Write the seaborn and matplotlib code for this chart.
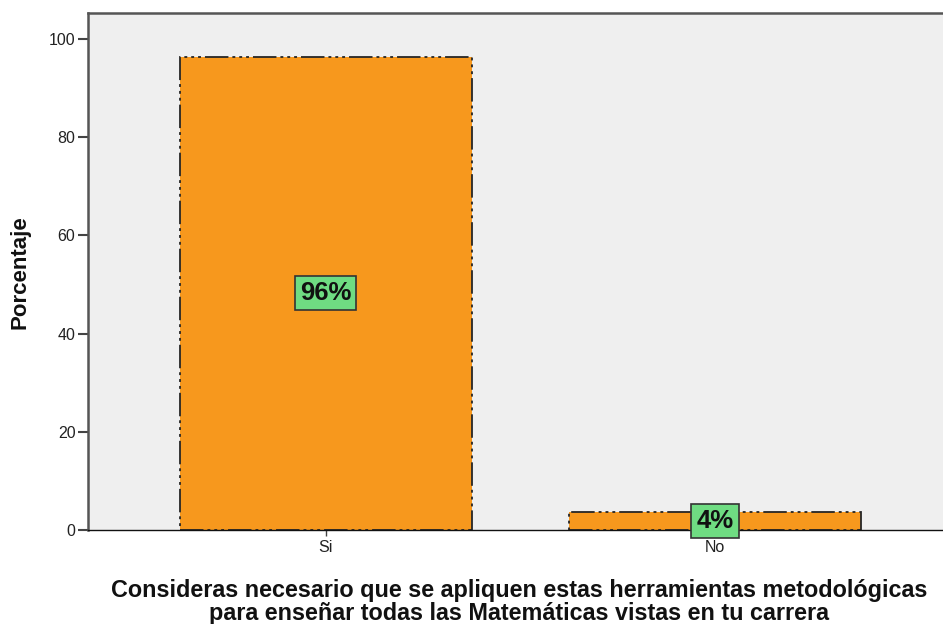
import matplotlib
matplotlib.use("Agg")
import matplotlib.pyplot as plt
import seaborn as sns
import pandas as pd

categories = ["Si", "No"]
porcentajes = [96.4, 3.6]
y_ticks = [0, 20, 40, 60, 80, 100]
x_title = ("Consideras necesario que se apliquen estas herramientas metodológicas\n"
           "para enseñar todas las Matemáticas vistas en tu carrera")
y_title = "Porcentaje"

sns.set_theme(style="white")
plt.rcParams["font.family"] = ["Liberation Sans", "DejaVu Sans"]

df = pd.DataFrame({"respuesta": categories, "porcentaje": porcentajes})

fig = plt.figure(figsize=(9.43, 6.24), dpi=100)
ax = fig.add_axes([88 / 943, 1 - 530 / 624, 1 - 88 / 943 + 0.01, (530 - 13) / 624])
ax.set_facecolor("#efefef")

# long dash followed by a run of dots
edge_style = (0, (13, 2.2, 1.6, 2.2, 1.6, 2.2, 1.6, 2.2))
sns.barplot(data=df, x="respuesta", y="porcentaje", color="#f7981d",
            saturation=1, width=0.75, ax=ax,
            edgecolor="#262626", linewidth=1.3, linestyle=edge_style)

ax.set_xlim(-0.61, 1.61)
ax.set_ylim(0, 105.3)
ax.set_yticks(y_ticks)
ax.set_yticklabels([str(t) for t in y_ticks], fontsize=11.5, color="#222222")
ax.tick_params(axis="y", direction="out", length=7, width=1.5, color="#444444",
               left=True, pad=2)
ax.tick_params(axis="x", direction="out", length=4, width=1, color="#444444",
               bottom=True, labelsize=11.5, labelcolor="#222222", pad=3)

for side in ["left", "top"]:
    ax.spines[side].set_color("#555555")
    ax.spines[side].set_linewidth(1.8)
ax.spines["right"].set_visible(False)
ax.spines["bottom"].set_color("#111111")
ax.spines["bottom"].set_linewidth(1.0)

for i, v in enumerate(porcentajes):
    ax.text(i, v / 2, f"{round(v)}%", ha="center", va="center",
            fontsize=18.5, fontweight="bold", color="#111111", zorder=5,
            bbox=dict(boxstyle="square,pad=0.2", facecolor="#6fdc82",
                      edgecolor="#333333", linewidth=1.2))

ax.set_xlabel(x_title, fontsize=16.8, fontweight="bold", color="#111111",
              linespacing=1.05)
ax.set_ylabel(y_title, fontsize=16, fontweight="bold", color="#111111")
ax.xaxis.set_label_coords((519 - 88) / (943 - 88 + 9.43), -0.094)
ax.xaxis.label.set_va("top")
ax.yaxis.set_label_coords(-(88 - 20) / (943 - 88 + 9.43), (530 - 272) / 517)
ax.yaxis.label.set_va("center")

fig.savefig("out.png", dpi=100)
